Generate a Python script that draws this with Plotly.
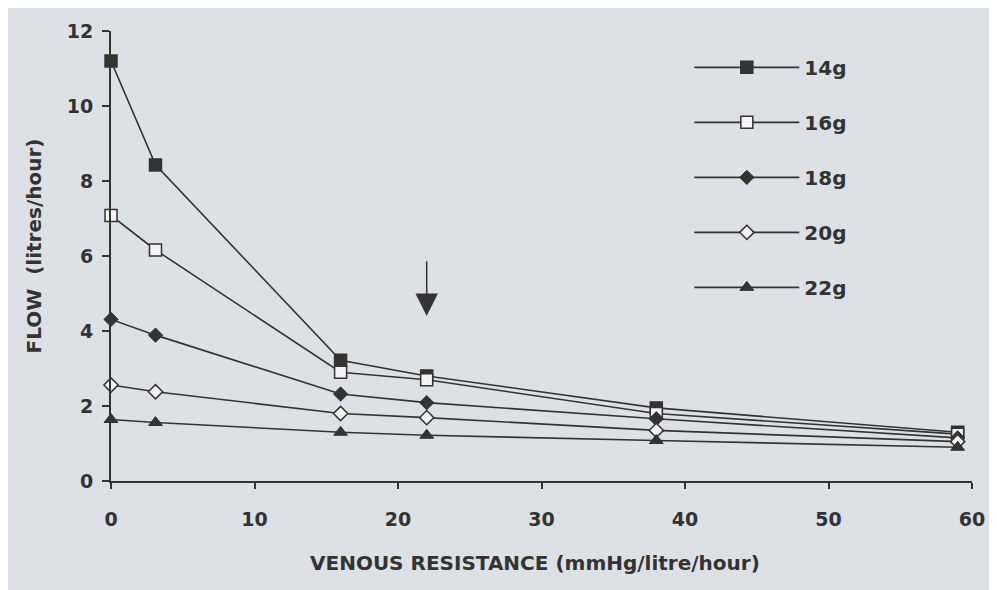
import plotly.graph_objects as go

# ---- data ----
resistance = [0, 3.1, 16, 22, 38, 59]
series_names = ["14g", "16g", "18g", "20g", "22g"]
flow_14g = [11.2, 8.43, 3.22, 2.8, 1.95, 1.3]
flow_16g = [7.08, 6.16, 2.9, 2.7, 1.8, 1.25]
flow_18g = [4.31, 3.89, 2.32, 2.09, 1.66, 1.15]
flow_20g = [2.56, 2.38, 1.8, 1.69, 1.35, 1.05]
flow_22g = [1.64, 1.56, 1.3, 1.22, 1.08, 0.9]
x_ticks = [0, 10, 20, 30, 40, 50, 60]
y_ticks = [0, 2, 4, 6, 8, 10, 12]
x_title = "VENOUS RESISTANCE (mmHg/litre/hour)"
y_title = "FLOW  (litres/hour)"
arrow_x = 22
arrow_tip_y = 4.4
arrow_tail_y = 5.9

INK = "#333333"
BG = "#dde1e5"
OPEN = "#f4f4f4"
FONT = "DejaVu Sans"

styles = [
    dict(symbol="square", size=12, color=INK, line=dict(color=INK, width=1.5)),
    dict(symbol="square", size=12, color=OPEN, line=dict(color=INK, width=1.5)),
    dict(symbol="diamond", size=11, color=INK, line=dict(color=INK, width=1)),
    dict(symbol="diamond", size=11, color=OPEN, line=dict(color=INK, width=1.5)),
    dict(symbol="triangle-up", size=12, color=INK, line=dict(color=INK, width=1)),
]
all_flows = [flow_14g, flow_16g, flow_18g, flow_20g, flow_22g]

fig = go.Figure()
for name, ys, mk in zip(series_names, all_flows, styles):
    fig.add_trace(go.Scatter(
        x=resistance, y=ys, name=name, mode="lines+markers",
        line=dict(color=INK, width=1.6), marker=mk,
        legendgroup=name, cliponaxis=False,
    ))

fig.add_annotation(
    x=arrow_x, y=arrow_tip_y, ax=arrow_x, ay=arrow_tail_y,
    xref="x", yref="y", axref="x", ayref="y",
    showarrow=True, arrowhead=2, arrowsize=3, arrowwidth=1.5, arrowcolor=INK, text="",
)

title_font = dict(family=FONT, size=20, color=INK, weight="bold")
fig.add_annotation(text=x_title, xref="paper", yref="paper", x=0.4925, y=-0.183,
                   xanchor="center", yanchor="middle", showarrow=False, font=title_font)
fig.add_annotation(text=y_title, xref="paper", yref="paper", x=-0.089, y=0.522,
                   xanchor="center", yanchor="middle", textangle=-90,
                   showarrow=False, font=title_font)

fig.update_layout(
    width=989, height=582,
    margin=dict(l=103, r=21, t=19, b=109),
    paper_bgcolor=BG, plot_bgcolor=BG,
    font=dict(family=FONT, color=INK, size=19),
    showlegend=True,
    legend=dict(
        x=(692 - 111) / 865, y=1 - (44 - 27) / 454, xanchor="left", yanchor="top",
        bgcolor="rgba(0,0,0,0)", itemwidth=105, tracegroupgap=26,
        font=dict(family=FONT, size=20, color=INK, weight="bold"),
    ),
    xaxis=dict(
        range=[0, 60], tickvals=x_ticks, showgrid=False, zeroline=False,
        showline=True, linecolor=INK, linewidth=2,
        ticks="outside", ticklen=6, tickwidth=2, tickcolor=INK,
        ticklabelstandoff=14,
        tickfont=dict(family=FONT, size=19, color=INK, weight="bold"),
    ),
    yaxis=dict(
        range=[0, 12], tickvals=y_ticks, showgrid=False, zeroline=False,
        showline=True, linecolor=INK, linewidth=2,
        ticks="outside", ticklen=7, tickwidth=2, tickcolor=INK,
        ticklabelstandoff=5,
        tickfont=dict(family=FONT, size=19, color=INK, weight="bold"),
    ),
)

fig.write_html("out.html")
